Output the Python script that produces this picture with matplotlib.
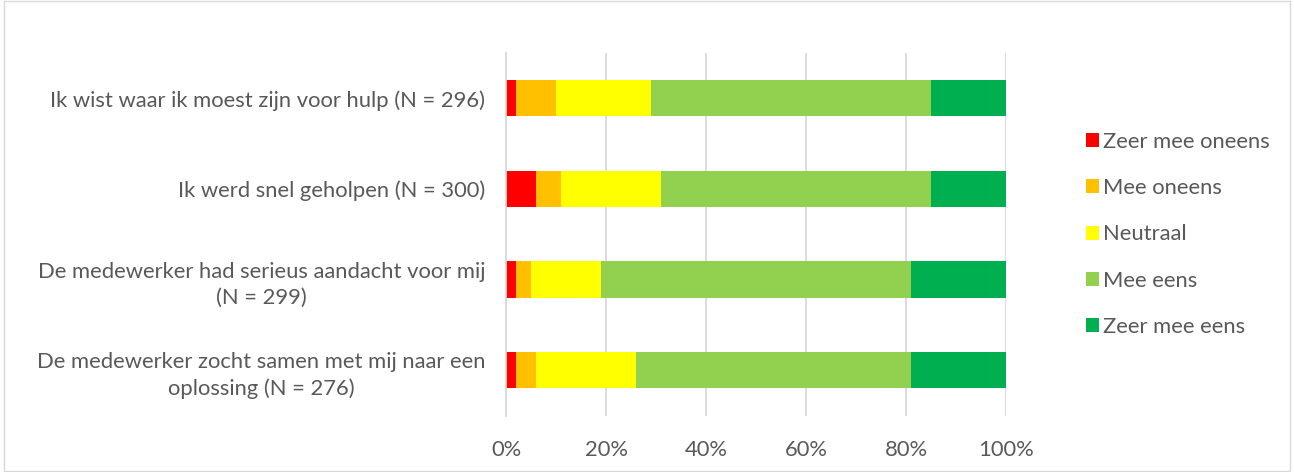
import matplotlib

matplotlib.use("Agg")
import matplotlib.pyplot as plt
import numpy as np
from matplotlib.patches import Patch

plt.rcParams["font.family"] = ["Lato", "DejaVu Sans"]

QUESTIONS = [
    "Ik wist waar ik moest zijn voor hulp (N = 296)",
    "Ik werd snel geholpen (N = 300)",
    "De medewerker had serieus aandacht voor mij\n(N = 299)",
    "De medewerker zocht samen met mij naar een\noplossing (N = 276)",
]
ANSWERS = ["Zeer mee oneens", "Mee oneens", "Neutraal", "Mee eens", "Zeer mee eens"]
COLORS = ["#ff0000", "#ffc000", "#ffff00", "#92d050", "#00b050"]

zeer_oneens = [2, 6, 2, 2]
oneens = [8, 5, 3, 4]
neutraal = [19, 20, 14, 20]
eens = [56, 54, 62, 55]
zeer_eens = [15, 15, 19, 19]
SERIES = [zeer_oneens, oneens, neutraal, eens, zeer_eens]

TEXT = "#595959"
GRID = "#d9d9d9"
FS = 15.8

fig = plt.figure(figsize=(12.94, 4.72), dpi=100)
ax = fig.add_axes([506 / 1294, 1 - 415.5 / 472, 500 / 1294, 362.5 / 472])

y = np.arange(len(QUESTIONS))
left = np.zeros(len(QUESTIONS))
for vals, color, name in zip(SERIES, COLORS, ANSWERS):
    v = np.array(vals, dtype=float)
    ax.barh(y, v, left=left, height=0.4, color=color, label=name, zorder=2)
    left += v

ax.set_xlim(0, 100)
ax.set_ylim(len(QUESTIONS) - 0.5, -0.5)
ax.set_xticks(np.arange(0, 101, 20))
ax.set_xticklabels([f"{t}%" for t in range(0, 101, 20)], color=TEXT, fontsize=FS)
ax.set_yticks(y)
ax.set_yticklabels(QUESTIONS, color=TEXT, fontsize=FS, ha="right", multialignment="center", linespacing=1.4)
ax.tick_params(axis="y", length=0, pad=15)
ax.tick_params(axis="x", length=0, pad=18)
ax.grid(axis="x", color=GRID, lw=1.3, zorder=0)
for side in ["top", "right", "bottom"]:
    ax.spines[side].set_visible(False)
ax.spines["left"].set_color(GRID)
ax.spines["left"].set_linewidth(1.3)

handles = [Patch(facecolor=c, label=n) for c, n in zip(COLORS, ANSWERS)]
fig.legend(
    handles=handles,
    loc="upper left",
    bbox_to_anchor=(1066 / 1294, 1 - 112 / 472),
    frameon=False,
    fontsize=FS,
    labelcolor=TEXT,
    handlelength=0.6,
    handleheight=0.6,
    handletextpad=0.2,
    labelspacing=1.2,
)

fig.patches.append(
    plt.Rectangle((0.003, 0.003), 0.994, 0.994, transform=fig.transFigure, fill=False, edgecolor="#d9d9d9", lw=1)
)

fig.savefig("out.png", dpi=100)
